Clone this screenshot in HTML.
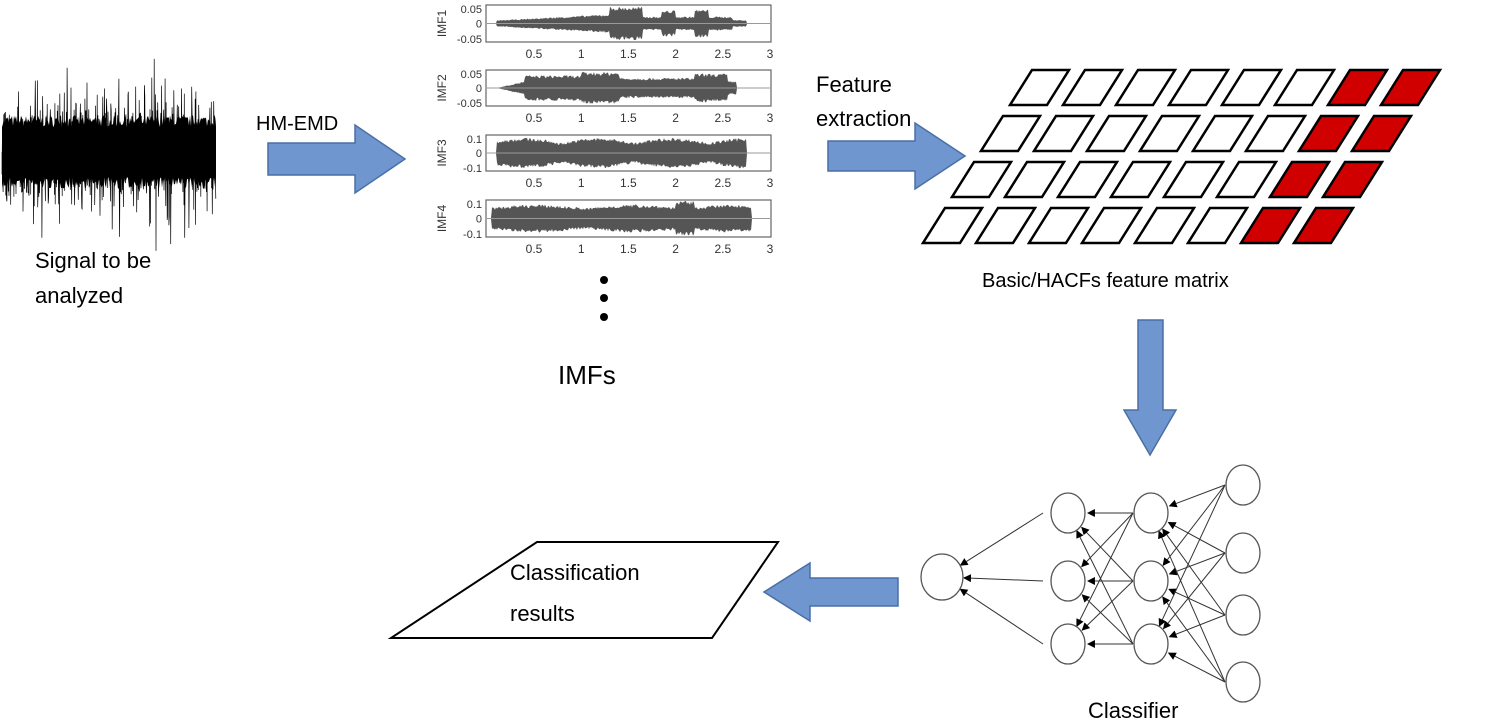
<!DOCTYPE html>
<html><head><meta charset="utf-8"><style>
html,body{margin:0;padding:0;background:#fff;}
svg{display:block;font-family:"Liberation Sans",Arial,sans-serif;}
</style></head><body>
<svg id="s" width="1500" height="722" viewBox="0 0 1500 722" xmlns="http://www.w3.org/2000/svg">
<defs>
<marker id="ah" markerWidth="8" markerHeight="8" refX="7" refY="4" orient="auto" markerUnits="userSpaceOnUse"><path d="M0,0 L8,4 L0,8 z" fill="#000"/></marker>
</defs>
<g id="sig"></g>
<text x="35" y="268" font-size="22" fill="#000">Signal to be</text>
<text x="35" y="303" font-size="22" fill="#000">analyzed</text>
<text x="256" y="130" font-size="20" fill="#000">HM-EMD</text>
<path d="M268,143 L355,143 L355,125 L405,159 L355,193 L355,175 L268,175 z" fill="#6f96cf" stroke="#4a6fa5" stroke-width="1.5"/>
<g id="imf"></g>
<circle cx="604" cy="280" r="4" fill="#000"/><circle cx="604" cy="298" r="4" fill="#000"/><circle cx="604" cy="317" r="4" fill="#000"/>
<text x="558" y="384" font-size="26" fill="#000">IMFs</text>
<text x="816" y="92" font-size="22" fill="#000">Feature</text>
<text x="816" y="126" font-size="22" fill="#000">extraction</text>
<path d="M828,141 L915,141 L915,123 L965,156 L915,189 L915,171 L828,171 z" fill="#6f96cf" stroke="#4a6fa5" stroke-width="1.5"/>
<g id="mat"></g>
<text x="982" y="287" font-size="20" fill="#000">Basic/HACFs feature matrix</text>
<path d="M1138,320 L1163,320 L1163,410 L1176,410 L1150,455 L1124,410 L1138,410 z" fill="#6f96cf" stroke="#4a6fa5" stroke-width="1.5"/>
<g id="nn"></g>
<text x="1088" y="718" font-size="22" fill="#000">Classifier</text>
<path d="M898,578 L810,578 L810,563 L764,592 L810,621 L810,606 L898,606 z" fill="#6f96cf" stroke="#4a6fa5" stroke-width="1.5"/>
<path d="M537,542 L778,542 L712,638 L391,638 z" fill="#fff" stroke="#000" stroke-width="2"/>
<text x="510" y="580" font-size="22" fill="#000">Classification</text>
<text x="510" y="621" font-size="22" fill="#000">results</text>
</svg>
<script>
var NS="http://www.w3.org/2000/svg";
function el(p,t,a){var e=document.createElementNS(NS,t);for(var k in a)e.setAttribute(k,a[k]);p.appendChild(e);return e;}
var seed=7;function rnd(){seed=(seed*16807)%2147483647;return seed/2147483647;}
// signal
var g=document.getElementById('sig');
var pts=[];
for(var x=2;x<=216;x+=1){pts.push([x,152-(25+rnd()*12),152+(25+rnd()*12)]);}
var poly=pts.map(function(p){return p[0]+","+p[1].toFixed(1);}).join(" ")+" "+pts.slice().reverse().map(function(p){return p[0]+","+p[2].toFixed(1);}).join(" ");
el(g,'polygon',{points:poly,fill:'#000'});
var d="M2,152";
for(var x=2;x<216;x+=0.35){var a=(rnd()-0.5);var amp=40+Math.pow(rnd(),3)*60;d+=" L"+x.toFixed(1)+","+(152+a*2*amp).toFixed(1);}
el(g,'path',{d:d,stroke:'#000','stroke-width':'0.7',fill:'none'});
// imfs
var ig=document.getElementById('imf');
var boxes=[[5,42,['0.05','0','-0.05'],'IMF1'],[70,106,['0.05','0','-0.05'],'IMF2'],[135,171,['0.1','0','-0.1'],'IMF3'],[200,237,['0.1','0','-0.1'],'IMF4']];
var envs=[
 function(t){return t<0.1||t>2.75?0.03:(t<1.3?0.15+0.3*t:(t<1.65?0.95:(t<1.85?0.4:(t<2.0?0.75:(t<2.2?0.4:(t<2.35?0.8:(t<2.6?0.4:0.2)))))));},
 function(t){return t<0.1||t>2.65?0.03:(t<0.4?0.4*(t-0.1)/0.3:(t<1?0.75:(t<1.4?0.95:(t<2.2?0.6:(t<2.55?0.85:0.4)))));},
 function(t){return t<0.1||t>2.75?0.03:0.6+0.3*Math.abs(Math.sin(t*4));},
 function(t){return t<0.05||t>2.8?0.03:(t>2.0&&t<2.2?1:0.6+0.2*Math.abs(Math.sin(t*3)));}
];
boxes.forEach(function(b,i){
 var y0=b[0],y1=b[1],ym=(y0+y1)/2,h=(y1-y0)/2;
 el(ig,'rect',{x:486,y:y0,width:285,height:y1-y0,fill:'#fff',stroke:'#666','stroke-width':'1.2'});
 var top=[],bot=[];
 for(var x=487;x<=770;x+=1){var t=(x-487)/94.3;var e=envs[i](t)*h*0.95;top.push(x+","+(ym-e*(0.75+0.25*rnd())).toFixed(1));bot.unshift(x+","+(ym+e*(0.75+0.25*rnd())).toFixed(1));}
 el(ig,'polygon',{points:top.join(" ")+" "+bot.join(" "),fill:'#555'});
 el(ig,'line',{x1:487,y1:ym,x2:770,y2:ym,stroke:'#999','stroke-width':'1'});
 el(ig,'text',{x:482,y:y0+8,'font-size':'11','text-anchor':'end',fill:'#333'}).textContent=b[2][0];
 el(ig,'text',{x:482,y:ym+4,'font-size':'11','text-anchor':'end',fill:'#333'}).textContent=b[2][1];
 el(ig,'text',{x:482,y:y1+1,'font-size':'11','text-anchor':'end',fill:'#333'}).textContent=b[2][2];
 var lt=el(ig,'text',{x:0,y:0,'font-size':'12',fill:'#333','text-anchor':'middle',transform:'translate(446,'+ym+') rotate(-90)'});lt.textContent=b[3];
 ['0.5','1','1.5','2','2.5','3'].forEach(function(s,j){el(ig,'text',{x:534+j*47.2,y:y1+16,'font-size':'12','text-anchor':'middle',fill:'#333'}).textContent=s;});
});
// matrix
var mg=document.getElementById('mat');
var rows=[70,116,162,208];
rows.forEach(function(top,r){
 var x0=1032-r*29;
 for(var c=0;c<8;c++){var x=x0+c*53;var red=c>=6;
  el(mg,'path',{d:"M"+x+","+top+" L"+(x+37)+","+top+" L"+(x+15)+","+(top+35)+" L"+(x-22)+","+(top+35)+" z",fill:red?'#d00000':'#fff',stroke:'#000','stroke-width':'2.5'});}
});
// nn
var ng=document.getElementById('nn');
var L1=[[942,577]],L2=[[1068,513],[1068,581],[1068,644]],L3=[[1151,513],[1151,581],[1151,644]],L4=[[1243,485],[1243,553],[1243,615],[1243,682]];
function conn(A,B,rx){A.forEach(function(a){B.forEach(function(b){var dx=b[0]-18-a[0],dy=b[1]-a[1],len=Math.sqrt(dx*dx+dy*dy);
 el(ng,'line',{x1:b[0]-18,y1:b[1],x2:a[0]+rx*dx/len*1.05,y2:a[1]+rx*dy/len*1.05,stroke:'#333','stroke-width':'1','marker-end':'url(#ah)'});});});}
L2.forEach(function(b){var a=L1[0],dx=b[0]-25-a[0],dy=b[1]-a[1],len=Math.sqrt(dx*dx+dy*dy);el(ng,'line',{x1:b[0]-25,y1:b[1],x2:a[0]+22*dx/len,y2:a[1]+22*dy/len,stroke:'#333','stroke-width':'1','marker-end':'url(#ah)'});});
conn(L2,L3,19);conn(L3,L4,19);
function circ(L,rx,ry){L.forEach(function(c){el(ng,'ellipse',{cx:c[0],cy:c[1],rx:rx,ry:ry,fill:'#fff',stroke:'#555','stroke-width':'1.3'});});}
circ(L1,21,23);circ(L2,17,20);circ(L3,17,20);circ(L4,17,20);
</script>
</body></html>
